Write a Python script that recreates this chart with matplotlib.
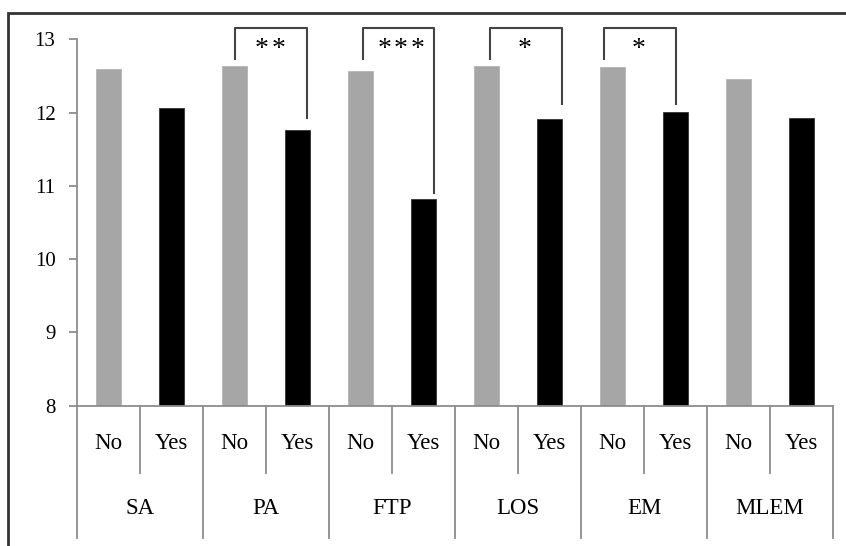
import numpy as np
import matplotlib.pyplot as plt
from matplotlib.patches import Rectangle

# mean scores per method, without / with the condition
groups = ['SA', 'PA', 'FTP', 'LOS', 'EM', 'MLEM']
levels = ['No', 'Yes']
no_values = [12.59, 12.64, 12.57, 12.64, 12.62, 12.46]
yes_values = [12.06, 11.76, 10.82, 11.91, 12.01, 11.93]

# significance brackets
bracket_left = [2.51, 4.54, 6.56, 8.36]
bracket_right = [3.65, 5.67, 7.70, 9.50]
bracket_left_end = [12.73, 12.73, 12.73, 12.73]
bracket_right_end = [11.93, 10.90, 12.12, 12.12]
star_count = [2, 3, 1, 1]
star_x = [3.06, 5.14, 7.11, 8.91]
bracket_top = 13.15
star_y = 12.86
star_step = 0.265

plt.rcParams['font.family'] = ['Liberation Serif', 'DejaVu Serif']
axis_grey = '#8c8c8c'

fig = plt.figure(figsize=(8.46, 5.46), dpi=100)
ax = fig.add_axes([77 / 846, 1 - 405.7 / 546, 756 / 846, 366.4 / 546])

n = len(groups)
x_no = np.arange(n) * 2 + 0.5
x_yes = np.arange(n) * 2 + 1.5
ax.bar(x_no, np.array(no_values) - 8, bottom=8, width=0.39,
       color='#a6a6a6', edgecolor='#b4b4b4', linewidth=0.6)
ax.bar(x_yes, np.array(yes_values) - 8, bottom=8, width=0.39,
       color='black', edgecolor='#333333', linewidth=0.6)

ax.set_xlim(0, 2 * n)
ax.set_ylim(8, 13)
ax.set_yticks([8, 9, 10, 11, 12, 13])
ax.set_xticks([])
for s in ['top', 'right']:
    ax.spines[s].set_visible(False)
for s in ['left', 'bottom']:
    ax.spines[s].set_color(axis_grey)
    ax.spines[s].set_linewidth(1.3)
ax.tick_params(axis='y', direction='out', length=5.5, width=1.3,
               color=axis_grey, labelsize=15, pad=10)

# two-level category axis drawn below the plot
minor_end = 7.08
major_end = 6.19
for i in range(2 * n + 1):
    end = major_end if i % 2 == 0 else minor_end
    ax.plot([i, i], [8, end], color=axis_grey, lw=1.3, clip_on=False)
for i in range(n):
    for j, lev in enumerate(levels):
        ax.text(2 * i + j + 0.5, 7.49, lev, ha='center', va='center',
                fontsize=16.5, clip_on=False)
    ax.text(2 * i + 1, 6.6, groups[i], ha='center', va='center',
            fontsize=16.5, clip_on=False)

# significance brackets with asterisks
for xl, xr, yl, yr, k, xs in zip(bracket_left, bracket_right, bracket_left_end,
                                 bracket_right_end, star_count, star_x):
    ax.plot([xl, xl, xr, xr], [yl, bracket_top, bracket_top, yr],
            color='#444444', lw=1.5, clip_on=False)
    offsets = (np.arange(k) - (k - 1) / 2) * star_step
    for dx in offsets:
        ax.text(xs + dx, star_y, '*', ha='center', va='center',
                fontsize=20, clip_on=False)

# frame around the chart
fig.patches.append(Rectangle((8 / 846, -0.1), 1.2, 1 - 13 / 546 + 0.1,
                             transform=fig.transFigure, fill=False,
                             edgecolor='#333333', lw=2))

fig.savefig('out.png', dpi=100)
